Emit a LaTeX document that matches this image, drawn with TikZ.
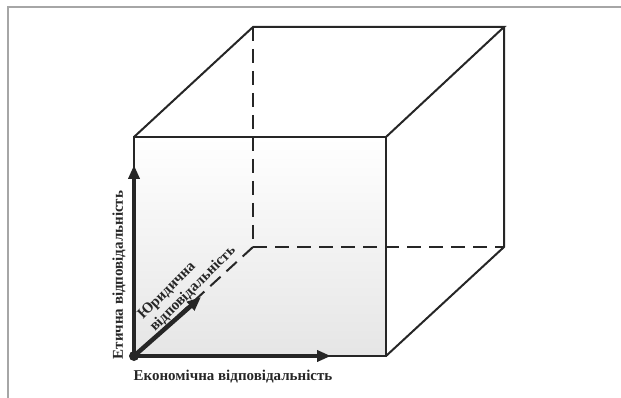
\documentclass[tikz,border=0pt]{standalone}
\usepackage{fontspec}
\setmainfont{Liberation Serif}
\usetikzlibrary{arrows.meta, positioning}
\definecolor{FrameGray}{HTML}{A6A6A6}
\definecolor{EdgeBlack}{HTML}{262626}

\begin{document}
\begin{tikzpicture}[x=1pt, y=-1pt,
  edge/.style={line width=2pt, draw=EdgeBlack, line join=miter},
  hidden/.style={edge, dash pattern=on 14pt off 8pt},
  axis/.style={-{Triangle[length=14pt, width=11pt]}, line width=4.5pt, draw=EdgeBlack},
  lbl/.style={font=\fontsize{15}{17}\selectfont\bfseries, text=EdgeBlack, inner sep=0pt}
]
\useasboundingbox (0,0) rectangle (621,398);

% ── FRAME ─────────────────────────────────────────────────────────────────────
\draw[FrameGray, line width=2.5pt] (8,398) -- (8,7) -- (621,7);

% ── CUBE ──────────────────────────────────────────────────────────────────────
\coordinate (f1) at (134,356);  % front, bottom left (origin)
\coordinate (f2) at (386,356);
\coordinate (f3) at (386,137);
\coordinate (f4) at (134,137);
\coordinate (b1) at (253,247);  % back, bottom left
\coordinate (b2) at (504,247);
\coordinate (b3) at (504,27);
\coordinate (b4) at (253,27);

\shade[top color=white, bottom color=gray!20] (f1) rectangle (f3);

% hidden edges
\draw[hidden] (b4) -- (b1) -- (b2);
\draw[hidden] (b1) -- (f1);

% visible edges
\draw[edge] (f1) -- (f2) -- (f3) -- (f4) -- cycle;
\draw[edge] (f4) -- (b4) -- (b3) -- (f3);
\draw[edge] (b3) -- (b2) -- (f2);

% ── AXES ──────────────────────────────────────────────────────────────────────
\coordinate (ax) at (331,356);
\coordinate (ay) at (134,165);
\coordinate (az) at (201,297);

\draw[axis] (f1) -- (ax);
\draw[axis] (f1) -- (ay);
\draw[axis] (f1) -- (az);
\fill[EdgeBlack] (f1) circle (5pt);

\node[lbl] (econ)  at (233,377) {Економічна відповідальність};
\node[lbl, rotate=90] (ethic) at (119,275) {Етична відповідальність};
\node[lbl, rotate=45, align=left] (legal) at (187,283) {Юридична\\відповідальність};

\end{tikzpicture}
\end{document}
